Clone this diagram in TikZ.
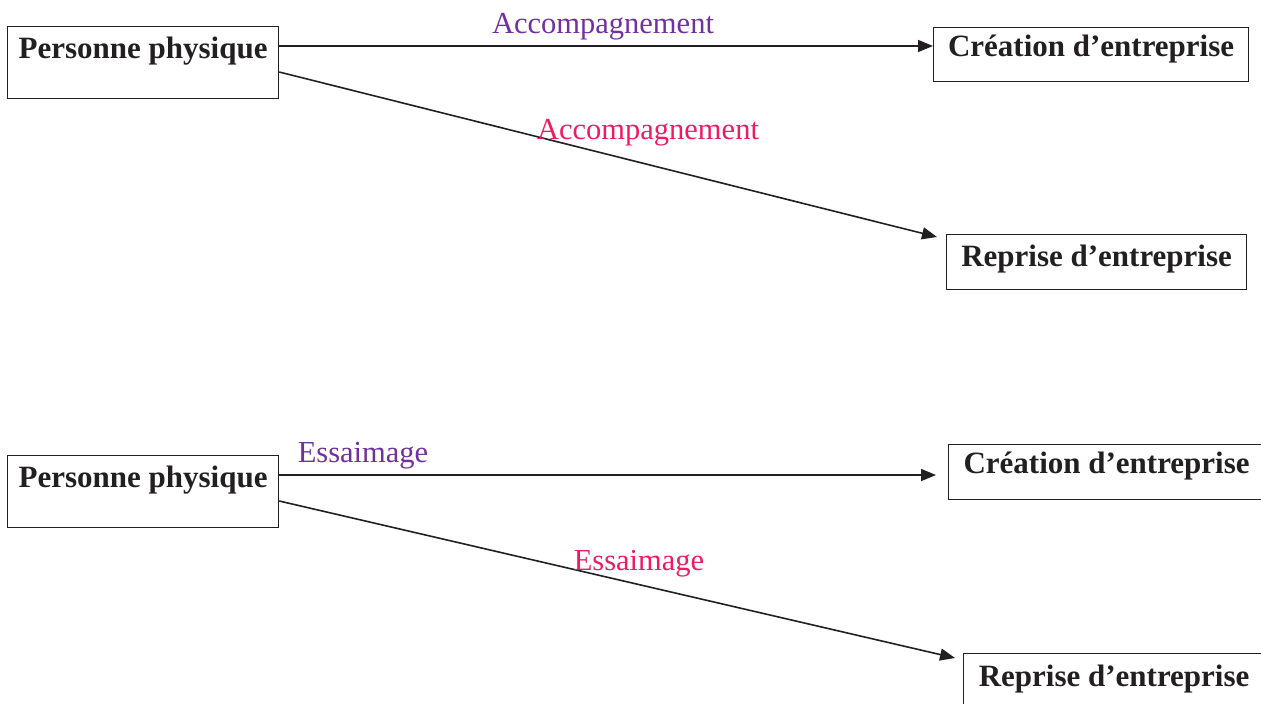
\documentclass[tikz,border=0pt]{standalone}
\usepackage{fontspec}
\setmainfont{Liberation Serif}
\usepackage{xcolor}
\usepackage{tikz}
\usetikzlibrary{calc,arrows.meta}
\definecolor{ink}{HTML}{231F20}
\definecolor{violet}{HTML}{7030A0}
\definecolor{rose}{HTML}{EC1C62}
\tikzset{
  box/.style={draw=ink, line width=1.2pt, inner sep=0pt, text=ink,
    font=\fontsize{31}{36}\selectfont\bfseries},
  arr/.style={draw=ink, line width=1.6pt, -{Triangle[length=15pt,width=12pt]}},
  lab/.style={font=\fontsize{30.5}{36}\selectfont, anchor=base, inner sep=0pt},
}

\begin{document}
\begin{tikzpicture}[x=1pt,y=1pt]
  \clip (0,0) rectangle (1261,-704);

  % top block
  \node[box, anchor=north west, minimum width=271pt, text height=32pt, text depth=40pt]
    (pp1) at (7,-26) {Personne physique};
  \node[box, anchor=north west, minimum width=315pt, text height=29pt, text depth=25pt]
    (ce1) at (933,-27) {Création d’entreprise};
  \node[box, anchor=north west, minimum width=300pt, text height=32pt, text depth=23pt]
    (re1) at (946,-234) {Reprise d’entreprise};

  \coordinate (a1) at ($(pp1.north east)+(0,-20)$);
  \coordinate (b1) at ($(pp1.north east)+(0,-46)$);
  \coordinate (t1) at ($(re1.north west)+(-9,-3)$);
  \draw[arr] (a1) -- (a1 -| ce1.west);
  \draw[arr] (b1) -- (t1);

  \node[lab, text=violet] (l1) at (603,-33) {Accompagnement};
  \node[lab, text=rose] (l2) at (648,-139) {Accompagnement};

  % bottom block
  \node[box, anchor=north west, minimum width=271pt, text height=32pt, text depth=40pt]
    (pp2) at (7,-455) {Personne physique};
  \node[box, anchor=north west, minimum width=316pt, text height=29pt, text depth=26pt]
    (ce2) at (948,-444) {Création d’entreprise};
  \node[box, anchor=north west, minimum width=301pt, text height=33pt, text depth=23pt]
    (re2) at (963,-653) {Reprise d’entreprise};

  \coordinate (a2) at ($(pp2.north east)+(0,-20)$);
  \coordinate (b2) at ($(pp2.north east)+(0,-46)$);
  \coordinate (t2) at ($(re2.north west)+(-8,-5)$);
  \draw[arr, shorten >=12pt] (a2) -- (a2 -| ce2.west);
  \draw[arr] (b2) -- (t2);

  \node[lab, text=violet] (l3) at (363,-462) {Essaimage};
  \node[lab, text=rose] (l4) at (639,-570) {Essaimage};
\end{tikzpicture}
\end{document}
